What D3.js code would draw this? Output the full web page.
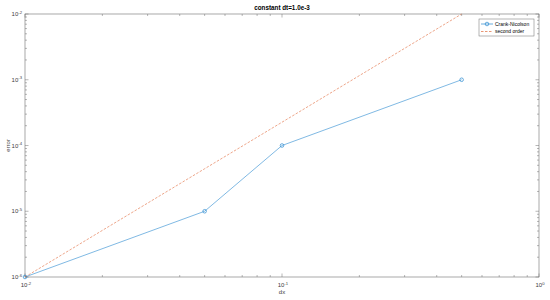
<!DOCTYPE html>
<html>
<head>
<meta charset="utf-8">
<script src="https://cdn.jsdelivr.net/npm/d3@7"></script>
<style>
  body { margin: 0; background: #fff; }
  svg { display: block; font-family: "Liberation Sans", Arial, sans-serif; }
</style>
</head>
<body>
<div id="chart"></div>
<script>
// data
const dxValues = [0.01, 0.05, 0.1, 0.5];
const crankNicolson = [1e-6, 1e-5, 1e-4, 1e-3];
const secondOrder = [1e-6, 4.43e-5, 2.26e-4, 1e-2];
const xTickExps = [-2, -1, 0];
const yTickExps = [-6, -5, -4, -3, -2];
const seriesNames = ['Crank-Nicolson', 'second order'];

(function drawChart() {
    const width = 550, height = 300;
    const margin = { top: 14, right: 11, bottom: 23, left: 25 };
    const innerW = width - margin.left - margin.right;
    const innerH = height - margin.top - margin.bottom;
    const axisColor = '#6e6e6e';
    const textColor = '#404040';
    const blue = '#2a8ad0', orange = '#e06a3a';

    const svg = d3.select('#chart').append('svg')
        .attr('width', width)
        .attr('height', height);

    const x = d3.scaleLog().domain([1e-2, 1]).range([margin.left, margin.left + innerW]);
    const y = d3.scaleLog().domain([1e-6, 1e-2]).range([margin.top + innerH, margin.top]);

    // all log ticks incl. minor ones
    const xMinor = x.ticks();
    const yMinor = y.ticks();
    const isMajor = v => Math.abs(Math.log10(v) - Math.round(Math.log10(v))) < 1e-9;

    const ticks = svg.append('g').attr('stroke', axisColor).attr('stroke-width', 0.5);
    const x0 = margin.left, x1 = margin.left + innerW;
    const y0 = margin.top + innerH, y1 = margin.top;

    xMinor.forEach(v => {
        const len = isMajor(v) ? 3.5 : 2;
        const px = x(v);
        ticks.append('line').attr('x1', px).attr('x2', px).attr('y1', y0).attr('y2', y0 - len);
        ticks.append('line').attr('x1', px).attr('x2', px).attr('y1', y1).attr('y2', y1 + len);
    });
    yMinor.forEach(v => {
        const len = isMajor(v) ? 3.5 : 2;
        const py = y(v);
        ticks.append('line').attr('x1', x0).attr('x2', x0 + len).attr('y1', py).attr('y2', py);
        ticks.append('line').attr('x1', x1).attr('x2', x1 - len).attr('y1', py).attr('y2', py);
    });

    // box
    svg.append('rect')
        .attr('x', x0).attr('y', y1)
        .attr('width', innerW).attr('height', innerH)
        .attr('fill', 'none')
        .attr('stroke', axisColor)
        .attr('stroke-width', 0.6);

    // tick labels, 10 with superscript exponent
    function powerLabel(g, e) {
        g.append('tspan').text('10');
        g.append('tspan').attr('dy', -2.5).attr('font-size', 4.2).text(e);
    }
    xTickExps.forEach(e => {
        const t = svg.append('text')
            .attr('x', x(Math.pow(10, e)) + 1)
            .attr('y', y0 + 10)
            .attr('font-size', 6)
            .attr('fill', textColor)
            .attr('text-anchor', 'middle');
        powerLabel(t, e);
    });
    yTickExps.forEach(e => {
        const t = svg.append('text')
            .attr('x', x0 - 3)
            .attr('y', y(Math.pow(10, e)) + 2)
            .attr('font-size', 6)
            .attr('fill', textColor)
            .attr('text-anchor', 'end');
        powerLabel(t, e);
    });

    // axis labels and title
    svg.append('text')
        .attr('x', (x0 + x1) / 2).attr('y', y0 + 17)
        .attr('text-anchor', 'middle').attr('font-size', 6).attr('fill', textColor)
        .text('dx');
    svg.append('text')
        .attr('transform', `translate(10,${(y0 + y1) / 2}) rotate(-90)`)
        .attr('text-anchor', 'middle').attr('font-size', 6).attr('fill', textColor)
        .text('error');
    svg.append('text')
        .attr('x', (x0 + x1) / 2).attr('y', y1 - 4.5)
        .attr('text-anchor', 'middle').attr('font-size', 6.3).attr('font-weight', 'bold')
        .attr('fill', '#000')
        .text('constant dt=1.0e-3');

    const line = d3.line().x(d => x(d[0])).y(d => y(d[1]));
    const cnData = dxValues.map((d, i) => [d, crankNicolson[i]]);
    const soData = dxValues.map((d, i) => [d, secondOrder[i]]);

    svg.append('path')
        .attr('d', line(cnData))
        .attr('fill', 'none').attr('stroke', blue).attr('stroke-width', 0.6);
    svg.selectAll('.cn-marker')
        .data(cnData)
        .enter()
        .append('circle')
        .attr('class', 'cn-marker')
        .attr('cx', d => x(d[0])).attr('cy', d => y(d[1]))
        .attr('r', 1.8)
        .attr('fill', 'none').attr('stroke', blue).attr('stroke-width', 0.7);

    svg.append('path')
        .attr('d', line(soData))
        .attr('fill', 'none').attr('stroke', orange).attr('stroke-width', 0.6)
        .attr('stroke-dasharray', '2.5,1.5');

    // legend
    const lg = svg.append('g').attr('transform', 'translate(479,19)');
    lg.append('rect')
        .attr('width', 55).attr('height', 17)
        .attr('fill', '#fff').attr('stroke', axisColor).attr('stroke-width', 0.5);
    seriesNames.forEach((name, i) => {
        const ly = 5 + i * 7.5;
        lg.append('line')
            .attr('x1', 2).attr('x2', 14).attr('y1', ly).attr('y2', ly)
            .attr('stroke', i === 0 ? blue : orange).attr('stroke-width', 0.7)
            .attr('stroke-dasharray', i === 0 ? null : '2.5,1.5');
        if (i === 0) {
            lg.append('circle').attr('cx', 8).attr('cy', ly).attr('r', 1.8)
                .attr('fill', 'none').attr('stroke', blue).attr('stroke-width', 0.7);
        }
        lg.append('text')
            .attr('x', 16).attr('y', ly + 1.8)
            .attr('font-size', 5).attr('fill', '#000')
            .text(name);
    });
})();
</script>
</body>
</html>
